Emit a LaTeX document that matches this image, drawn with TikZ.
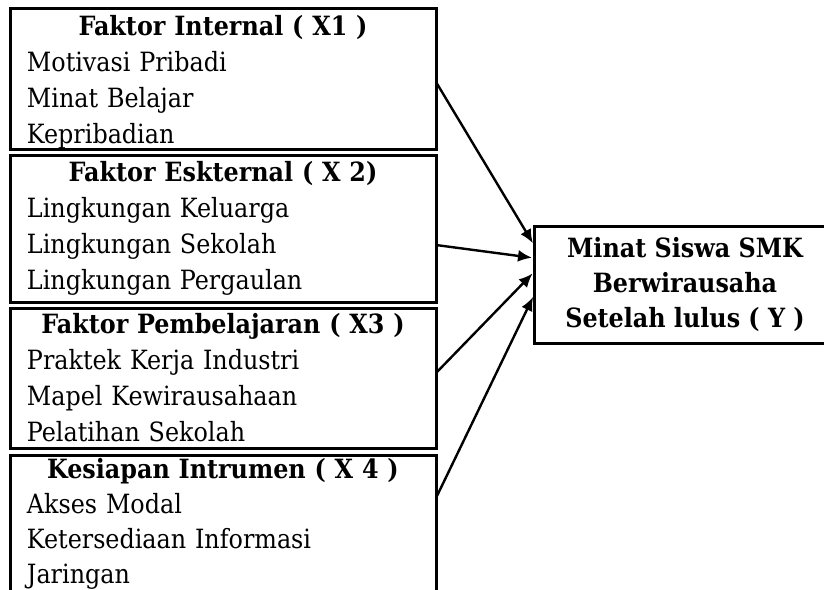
\documentclass[tikz,border=0pt]{standalone}
\usepackage{fontspec}
\setmainfont{DejaVu Serif Condensed}
\usetikzlibrary{positioning,arrows.meta}

\begin{document}
\begin{tikzpicture}[x=1pt,y=-1pt,
  factor/.style={rectangle,draw,line width=3pt,outer sep=0pt,inner ysep=0pt,
    inner xsep=17pt,minimum width=426pt,text width=392pt,align=left},
  target/.style={rectangle,draw,line width=3pt,outer sep=0pt,
    minimum width=302pt,minimum height=117pt,align=center,
    font=\bfseries\fontsize{26.5}{35}\selectfont},
  link/.style={-{Latex[length=14pt,width=12pt]},line width=2.4pt,shorten >=2pt}]
\useasboundingbox (0,0) rectangle (824,589);
\fontsize{26.5}{36}\selectfont
  \node[factor,anchor=north west,text height=27pt,text depth=114pt] (x1) at (10,8)
    {{\centering\bfseries Faktor Internal ( X1 )\par}
     Motivasi Pribadi\\Minat Belajar\\Kepribadian};
  \node[factor,text height=26pt,text depth=121pt] (x2) [below=6pt of x1]
    {{\centering\bfseries Faktor Eskternal ( X 2)\par}
     Lingkungan Keluarga\\Lingkungan Sekolah\\Lingkungan Pergaulan};
  \node[factor,text height=25pt,text depth=115pt] (x3) [below=6pt of x2]
    {{\centering\bfseries Faktor Pembelajaran ( X3 )\par}
     Praktek Kerja Industri\\Mapel Kewirausahaan\\Pelatihan Sekolah};
  \node[factor,font=\fontsize{26.5}{35}\selectfont,text height=23pt,text depth=122pt]
    (x4) [below=7pt of x3]
    {{\centering\bfseries Kesiapan Intrumen ( X 4 )\par}
     Akses Modal\\Ketersediaan Informasi\\Jaringan};
  \node[target,anchor=north west] (minat) at (534,226)
    {Minat Siswa SMK\\Berwirausaha\\Setelah lulus ( Y )};

  \draw[link] ([yshift=-74pt]x1.north east) -- ([yshift=-19pt]minat.north west);
  \draw[link] ([yshift=-90pt]x2.north east) -- ([yshift=-32pt]minat.north west);
  \draw[link] ([yshift=-65pt]x3.north east) -- ([yshift=-46pt]minat.north west);
  \draw[link] ([yshift=-43pt]x4.north east) -- ([yshift=-69pt]minat.north west);
\end{tikzpicture}
\end{document}
